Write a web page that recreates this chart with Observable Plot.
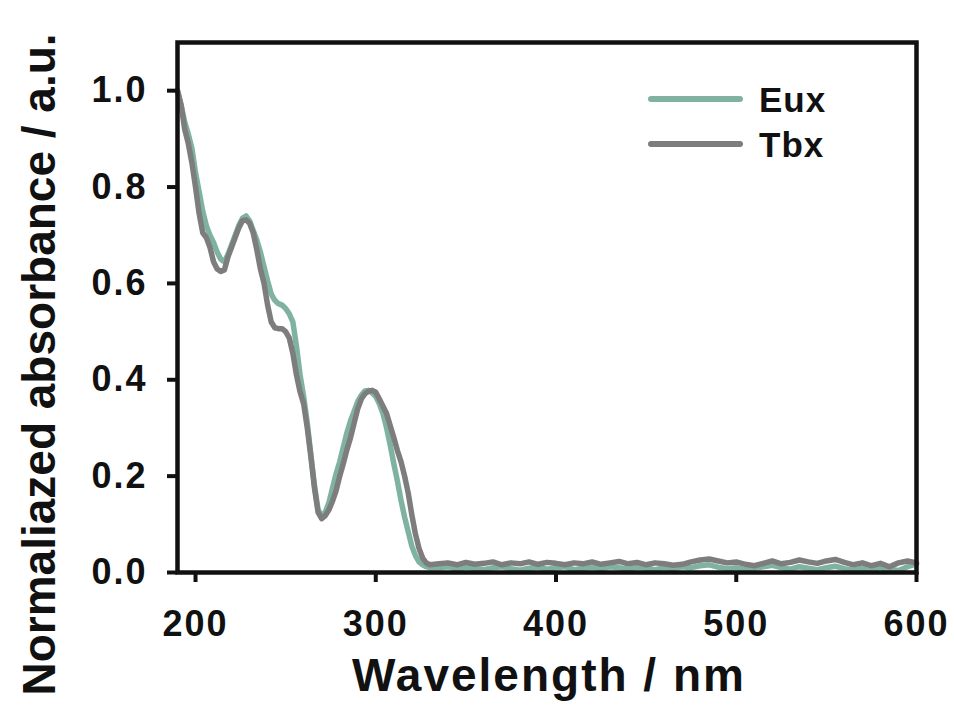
<!DOCTYPE html>
<html>
<head>
<meta charset="utf-8">
<script src="https://cdn.jsdelivr.net/npm/d3@7"></script>
<script src="https://cdn.jsdelivr.net/npm/@observablehq/plot@0.6"></script>
<style>
  html, body { margin: 0; padding: 0; background: #fff; }
  #chart { position: relative; width: 954px; height: 726px; }
  .absplot g[aria-label="x-axis tick label"] text,
  .absplot g[aria-label="y-axis tick label"] text { letter-spacing: 2px; }
  .absplot .xlab text { letter-spacing: 2px; }
</style>
</head>
<body>
<div id="chart"></div>
<script>
// ---- Data ----
const seriesNames = ["Eux", "Tbx"];
const seriesColors = ["#7fb2a2", "#7d7d7d"];

const wavelength = [
  190,192,194,196,198,200,202,204,206,208,210,212,214,216,218,220,222,224,226,228,
  230,232,234,236,238,240,242,244,246,248,250,252,254,256,258,260,262,264,266,268,
  270,272,274,276,278,280,282,284,286,288,290,292,294,296,298,300,302,304,306,308,
  310,312,314,316,318,320,322,324,326,328,330,
  335,340,345,350,355,360,365,370,375,380,385,390,395,400,405,410,415,420,425,430,
  435,440,445,450,455,460,465,470,475,480,485,490,495,500,505,510,515,520,525,530,
  535,540,545,550,555,560,565,570,575,580,585,590,595,600
];

const euxAbsorbance = [
  1.00,0.97,0.935,0.91,0.88,0.83,0.79,0.75,0.72,0.70,0.685,0.665,0.65,0.645,0.66,0.68,0.70,0.72,0.735,0.74,
  0.73,0.71,0.69,0.665,0.635,0.605,0.578,0.565,0.558,0.555,0.548,0.537,0.52,0.47,0.41,0.365,0.31,0.245,0.18,0.13,
  0.118,0.125,0.145,0.175,0.205,0.23,0.26,0.29,0.315,0.335,0.355,0.368,0.377,0.378,0.373,0.365,0.35,0.33,0.30,0.265,
  0.226,0.19,0.15,0.115,0.085,0.055,0.035,0.022,0.016,0.012,0.010,
  0.010,0.012,0.007,0.011,0.008,0.006,0.010,0.012,0.008,0.005,0.009,0.011,0.007,0.010,0.012,0.006,0.009,0.011,0.008,0.012,
  0.010,0.007,0.011,0.009,0.006,0.010,0.008,0.012,0.010,0.014,0.016,0.011,0.008,0.010,0.006,0.009,0.012,0.015,0.010,0.007,
  0.012,0.009,0.006,0.010,0.013,0.008,0.005,0.009,0.006,0.010,0.007,0.004,0.012,0.018
];

const tbxAbsorbance = [
  1.00,0.97,0.92,0.89,0.85,0.80,0.745,0.705,0.695,0.675,0.645,0.63,0.625,0.628,0.655,0.675,0.695,0.715,0.73,0.732,
  0.725,0.705,0.67,0.63,0.60,0.555,0.52,0.508,0.506,0.506,0.50,0.487,0.455,0.41,0.375,0.35,0.30,0.24,0.175,0.125,
  0.112,0.118,0.13,0.148,0.17,0.20,0.226,0.255,0.28,0.31,0.34,0.36,0.371,0.376,0.378,0.374,0.36,0.345,0.33,0.305,
  0.28,0.253,0.23,0.20,0.165,0.12,0.08,0.05,0.03,0.02,0.016,
  0.018,0.020,0.016,0.021,0.017,0.019,0.022,0.016,0.020,0.018,0.022,0.017,0.021,0.019,0.016,0.020,0.018,0.022,0.017,0.020,
  0.023,0.018,0.021,0.016,0.020,0.018,0.015,0.017,0.022,0.026,0.028,0.024,0.020,0.022,0.017,0.014,0.019,0.024,0.018,0.021,
  0.026,0.022,0.019,0.024,0.027,0.021,0.016,0.020,0.014,0.019,0.012,0.020,0.024,0.020
];

const xTicks = [200, 300, 400, 500, 600];
const yTicks = [0.0, 0.2, 0.4, 0.6, 0.8, 1.0];
const xLabel = "Wavelength / nm";
const yLabel = "Normaliazed absorbance / a.u.";

// ---- Build table ----
const rows = [];
[euxAbsorbance, tbxAbsorbance].forEach((vals, s) => {
  wavelength.forEach((w, i) => rows.push({series: seriesNames[s], wavelength: w, value: vals[i]}));
});

const FONT = "'Liberation Sans', Arial, Helvetica, sans-serif";

const plot = Plot.plot({
  width: 954,
  height: 726,
  marginLeft: 177,
  marginRight: 38,
  marginTop: 42,
  marginBottom: 154,
  className: "absplot",
  style: {fontFamily: FONT, fontWeight: "bold", color: "#111", background: "#fff"},
  x: {domain: [190, 600]},
  y: {domain: [0, 1.1]},
  color: {domain: seriesNames, range: seriesColors},
  marks: [
    Plot.line(rows, {
      x: "wavelength", y: "value", z: "series", stroke: "series",
      strokeWidth: 5.5, strokeLinejoin: "round", strokeLinecap: "round"
    }),
    Plot.frame({stroke: "#111", strokeWidth: 4.5}),
    Plot.axisX({
      ticks: xTicks, tickFormat: d3.format("d"), tickSize: 10, tickPadding: 28,
      strokeWidth: 4, stroke: "#111", fontSize: 36, fontWeight: "bold", label: null
    }),
    Plot.axisY({
      ticks: yTicks, tickFormat: d3.format(".1f"), tickSize: 10, tickPadding: 20,
      strokeWidth: 4, stroke: "#111", fontSize: 36, fontWeight: "bold", label: null
    }),
    Plot.text([xLabel], {
      text: d => d, frameAnchor: "bottom", lineAnchor: "top", textAnchor: "middle",
      dy: 86, dx: 2, fontSize: 46, fontWeight: "bold", fill: "#111", className: "xlab"
    }),
    Plot.text([yLabel], {
      text: d => d, frameAnchor: "left", lineAnchor: "top", textAnchor: "middle", rotate: -90,
      dx: -155, dy: 57, fontSize: 46, fontWeight: "bold", fill: "#111"
    })
  ]
});

document.getElementById("chart").appendChild(plot);

// ---- Legend (inside the plot, top right) ----
const svg = d3.select(plot);
const legend = svg.append("g")
  .attr("font-family", FONT).attr("font-weight", "bold").attr("text-anchor", "start");
seriesNames.forEach((name, i) => {
  const y = 99 + i * 45;
  legend.append("line")
    .attr("x1", 651).attr("x2", 740).attr("y1", y).attr("y2", y)
    .attr("stroke", seriesColors[i]).attr("stroke-width", 6).attr("stroke-linecap", "round");
  legend.append("text")
    .attr("x", 759).attr("y", y).attr("dy", "0.36em")
    .attr("font-size", 35).attr("fill", "#111").attr("letter-spacing", "1px")
    .attr("text-anchor", "start")
    .text(name);
});
</script>
</body>
</html>
